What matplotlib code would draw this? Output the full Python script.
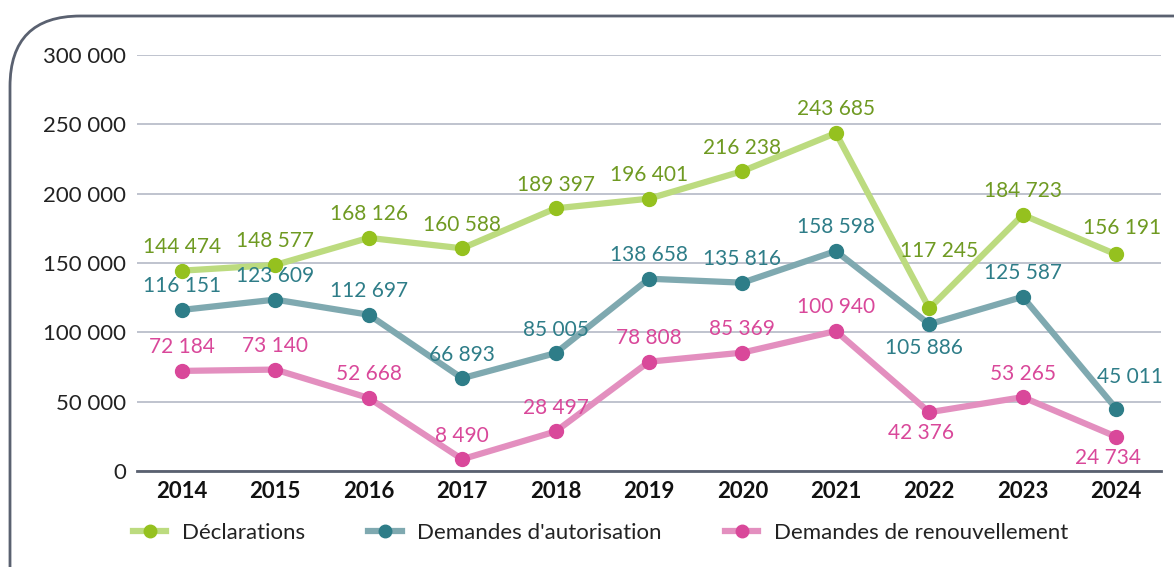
import matplotlib.pyplot as plt
from matplotlib.patches import FancyBboxPatch
from matplotlib.lines import Line2D

plt.rcParams['font.family'] = ['Lato', 'DejaVu Sans']

years = [2014, 2015, 2016, 2017, 2018, 2019, 2020, 2021, 2022, 2023, 2024]
declarations = [144474, 148577, 168126, 160588, 189397, 196401, 216238, 243685, 117245, 184723, 156191]
autorisation = [116151, 123609, 112697, 66893, 85005, 138658, 135816, 158598, 105886, 125587, 45011]
renouvellement = [72184, 73140, 52668, 8490, 28497, 78808, 85369, 100940, 42376, 53265, 24734]
names = ["Déclarations", "Demandes d'autorisation", "Demandes de renouvellement"]

# (line, marker, label) colours
styles = [("#bcdb7f", "#95c11f", "#6f9a22"),
          ("#7fa9b0", "#2e7d88", "#2e7d88"),
          ("#e38fbf", "#d9489a", "#d9489a")]

# label offsets (points) that differ from the default (0, 17) above the point
offsets = {(0, 2022): (7, 41), (0, 2024): (4, 19),
           (1, 2022): (-4, -17), (1, 2024): (10, 23),
           (2, 2022): (-6, -15), (2, 2024): (-6, -15)}

def fmt(v):
    return f"{v:,}".replace(",", " ")

fig = plt.figure(figsize=(11.74, 5.67), dpi=100)
frame = FancyBboxPatch((10 / 1174, -0.2), 1.2, 1.2 - 16 / 567,
                       boxstyle="round,pad=0,rounding_size=0.06",
                       transform=fig.transFigure, facecolor="white",
                       edgecolor="#5a6170", linewidth=2, mutation_aspect=1174 / 567,
                       zorder=-5)
fig.patches.append(frame)

ax = fig.add_axes([137 / 1174, 1 - 471 / 567, (1161 - 137) / 1174, (471 - 55) / 567])
ax.set_facecolor("none")

for i, series in enumerate([declarations, autorisation, renouvellement]):
    lc, mc, tc = styles[i]
    ax.plot(years, series, color=lc, lw=4.5, zorder=3, solid_capstyle="round")
    ax.plot(years, series, "o", color=mc, ms=10, zorder=4)
    for x, v in zip(years, series):
        dx, dy = offsets.get((i, x), (0, 17))
        ax.annotate(fmt(v), (x, v), xytext=(dx, dy), textcoords="offset points",
                    ha="center", va="center", color=tc, fontsize=15, zorder=5)

ax.set_ylim(0, 300000)
ax.set_xlim(2013.52, 2024.48)
ax.set_yticks(range(0, 300001, 50000))
ax.set_yticklabels([fmt(v) for v in range(0, 300001, 50000)], fontsize=16, color="#222222")
ax.set_xticks(years)
ax.set_xticklabels([str(y) for y in years], fontsize=16, fontweight="bold", color="#111111")
ax.grid(axis="y", color="#b4b9c6", lw=1.2)
ax.set_axisbelow(True)
for s in ["top", "right", "left"]:
    ax.spines[s].set_visible(False)
ax.spines["bottom"].set_color("#5a6170")
ax.spines["bottom"].set_linewidth(2)
ax.tick_params(axis="x", length=0, pad=7)
ax.tick_params(axis="y", length=0, pad=8)

handles = [Line2D([0], [0], color=s[0], lw=4.5, marker="o", ms=9,
                  markerfacecolor=s[1], markeredgecolor=s[1]) for s in styles]
fig.legend(handles, names, loc="center left", bbox_to_anchor=(133 / 1174, 1 - 533 / 567),
           ncol=3, frameon=False, fontsize=16, handlelength=1.5, handletextpad=0.7,
           columnspacing=2.85, borderpad=0, borderaxespad=0, labelcolor="#222222")

fig.savefig("out.png", dpi=100)
